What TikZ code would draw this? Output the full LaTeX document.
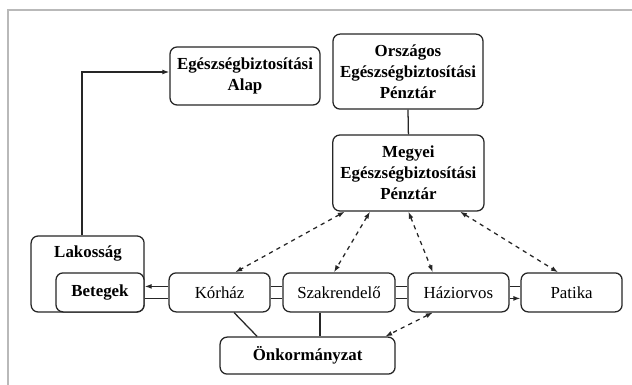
\documentclass[tikz,border=0pt]{standalone}
\usepackage{fontspec}
\setmainfont{Liberation Serif}
\usepackage{tikz}
\usetikzlibrary{arrows.meta, positioning}

\begin{document}
\begin{tikzpicture}[
  box/.style={
    rectangle, rounded corners=5pt,
    draw=black!85, fill=white, line width=0.9pt,
    minimum height=0.975cm, inner sep=1pt,
    align=center, font=\fontsize{12}{15}\selectfont
  },
  bbox/.style={box, font=\fontsize{12}{15}\selectfont\bfseries},
  link/.style={draw=black!85, line width=0.9pt},
  arrow/.style={link, -{Latex[length=5pt, width=3.5pt]}},
  dasharrow/.style={link, dashed, {Latex[length=5pt, width=3.5pt]}-{Latex[length=5pt, width=3.5pt]}}
]
\useasboundingbox (0,0) rectangle (15.8,-9.625);

% ---- Frame ----
\draw[gray!55, line width=1.6pt] (0.2,-9.7) -- (0.2,-0.25) -- (15.9,-0.25);

% ---- Top row ----
\node[bbox, minimum width=3.75cm, minimum height=1.45cm]
             (alap) at (6.125,-1.9)  {Egészségbiztosítási\\Alap};
\node[bbox, minimum width=3.75cm, minimum height=1.875cm]
             (oep)  at (10.2,-1.79)  {Országos\\Egészségbiztosítási\\Pénztár};
\node[bbox, minimum width=3.78cm, minimum height=1.9cm]
             (meep) at (10.21,-4.325) {Megyei\\Egészségbiztosítási\\Pénztár};

% ---- Population ----
\node[box, minimum width=2.825cm, minimum height=1.9cm]
             (lakossag) at (2.19,-6.85) {};
\node[font=\fontsize{12}{15}\selectfont\bfseries]
             (lakoslbl) at (2.2,-6.35) {Lakosság};
\node[bbox, minimum width=2.2cm]
             (betegek)  at (2.5,-7.31)  {Betegek};

% ---- Provider row ----
\node[box, minimum width=2.525cm] (korhaz) at (5.49,-7.31)  {Kórház};
\node[box, minimum width=2.8cm]   (szak)   at (8.475,-7.31) {Szakrendelő};
\node[box, minimum width=2.525cm] (hazi)   at (11.46,-7.31) {Háziorvos};
\node[box, minimum width=2.525cm] (patika) at (14.29,-7.31) {Patika};

% ---- Local government ----
\node[bbox, minimum width=4.375cm, minimum height=0.925cm]
             (onk) at (7.69,-8.89) {Önkormányzat};

% ---- Arrows ----
\draw[arrow] ([xshift=-0.14cm]lakossag.north) |- ([yshift=0.1cm]alap.west);
\draw[link]  (oep.south) -- (meep.north);

\draw[dasharrow] ([xshift=-1.59cm]meep.south) -- ([xshift=0.39cm]korhaz.north);
\draw[dasharrow] ([xshift=-0.96cm]meep.south) -- ([xshift=-0.125cm]szak.north);
\draw[dasharrow] (meep.south) -- ([xshift=-0.64cm]hazi.north);
\draw[dasharrow] ([xshift=1.29cm]meep.south) -- ([xshift=-0.34cm]patika.north);

\draw[arrow] ([yshift=0.15cm]korhaz.west) -- ([yshift=0.15cm]betegek.east);
\draw[link]  ([yshift=-0.15cm]korhaz.west) -- ([yshift=-0.15cm]betegek.east);
\draw[link]  ([yshift=0.15cm]korhaz.east) -- ([yshift=0.15cm]szak.west);
\draw[link]  ([yshift=-0.15cm]korhaz.east) -- ([yshift=-0.15cm]szak.west);
\draw[link]  ([yshift=0.15cm]szak.east) -- ([yshift=0.15cm]hazi.west);
\draw[link]  ([yshift=-0.15cm]szak.east) -- ([yshift=-0.15cm]hazi.west);
\draw[link]  ([yshift=0.15cm]hazi.east) -- ([yshift=0.15cm]patika.west);
\draw[arrow] ([yshift=-0.15cm]hazi.east) -- ([yshift=-0.15cm]patika.west);

\draw[link] ([xshift=0.36cm]korhaz.south) -- ([xshift=-1.26cm]onk.north);
\draw[link] ([xshift=-0.475cm]szak.south) -- ([xshift=-0.475cm]szak.south |- onk.north);
\draw[dasharrow] ([xshift=-0.64cm]hazi.south) -- ([xshift=1.94cm]onk.north);

\end{tikzpicture}
\end{document}
